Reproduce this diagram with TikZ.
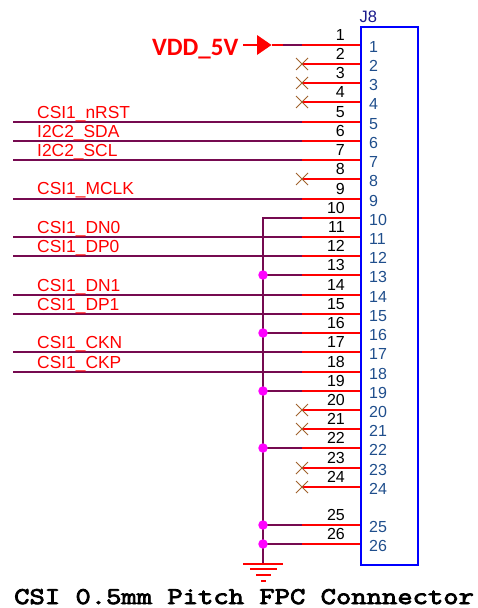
\documentclass[tikz,border=0pt]{standalone}
\usepackage{fontspec}
\setsansfont{Liberation Sans}
\newfontfamily\vddfont{Carlito}
\newfontfamily\titlefont[FakeBold=3.5,FakeStretch=1.24]{Latin Modern Mono}
\usetikzlibrary{calc}
\definecolor{wiredark}{HTML}{760A50}
\definecolor{pinblue}{HTML}{1F4E8C}
\definecolor{refblue}{HTML}{1A1A8C}
\definecolor{xbrown}{HTML}{A0622D}
\definecolor{purepink}{HTML}{FF00FF}
\definecolor{purered}{HTML}{FF0000}
\definecolor{pureblue}{HTML}{0000FF}
\tikzset{
  x=1pt,y=-1pt,
  pinline/.style={draw=purered,line width=1.7pt},
  wireline/.style={draw=wiredark,line width=1.7pt},
  nomark/.style={draw=xbrown,line width=1pt},
  pinnum/.style={text=black,font=\sffamily\fontsize{16}{16}\selectfont,anchor=base east,inner sep=0pt},
  padnum/.style={text=pinblue,font=\sffamily\fontsize{16}{16}\selectfont,anchor=base west,inner sep=0pt},
  netlabel/.style={text=purered,font=\sffamily\fontsize{17.4}{17.4}\selectfont,anchor=base west,inner sep=0pt},
  junction/.style={circle,fill=purepink,draw=none,minimum size=9.5pt,inner sep=0pt},
  gndbar/.style={draw=purered,line width=1.7pt},
}
\begin{document}
\begin{tikzpicture}
\useasboundingbox (0,0) rectangle (477,608);
% connector body
\node[draw=pureblue,line width=1.7pt,minimum width=57pt,minimum height=538pt,inner sep=0pt,anchor=north west] (body) at (360,26) {};
\node[text=refblue,font=\sffamily\fontsize{16.5}{16.5}\selectfont,anchor=base west,inner sep=0pt] (ref) at (359.5,22.5) {J8};
% pins
\foreach \n/\yy in {1/45,2/64,3/83,4/102,5/122,6/141,7/160,8/179,9/199,10/218,11/237,12/256,13/275,14/295,15/314,16/333,17/352,18/372,19/391,20/410,21/429,22/448,23/468,24/487,25/525,26/544}{
  \coordinate (s\n) at (302,\yy);
  \coordinate (e\n) at (360,\yy);
  \coordinate (b\n) at (263,\yy);
  \coordinate (w\n) at (13,\yy);
  \draw[pinline] (s\n) -- (e\n);
  \node[pinnum] (pn\n) at (345,\yy-4.5) {\n};
  \node[padnum] (pd\n) at (369,\yy+7.5) {\n};
}
% no-connect marks
\foreach \n in {2,3,4,8,20,21,23,24}{
  \draw[nomark] ($(s\n)+(-6,-6)$) -- ($(s\n)+(6,6)$) ($(s\n)+(-6,6)$) -- ($(s\n)+(6,-6)$);
}
% signal wires
\foreach \n in {5,6,7,9,11,12,14,15,17,18}{
  \draw[wireline] (w\n) -- (s\n);
}
% net labels
\node[netlabel] (l5) at (37,118.3) {CSI1\_nRST};
\node[netlabel] (l6) at (37,137.5) {I2C2\_SDA};
\node[netlabel] (l7) at (37,156.7) {I2C2\_SCL};
\node[netlabel] (l9) at (37,194.8) {CSI1\_MCLK};
\node[netlabel] (l11) at (37,233.3) {CSI1\_DN0};
\node[netlabel] (l12) at (37,252.3) {CSI1\_DP0};
\node[netlabel] (l14) at (37,291) {CSI1\_DN1};
\node[netlabel] (l15) at (37,310) {CSI1\_DP1};
\node[netlabel] (l17) at (37,348.3) {CSI1\_CKN};
\node[netlabel] (l18) at (37,368) {CSI1\_CKP};
% ground bus
\coordinate (gnd) at (263,564);
\draw[wireline] (s10) -- (b10) -- (gnd);
\foreach \n in {13,16,19,22,25,26}{
  \draw[wireline] (b\n) -- (s\n);
  \node[junction] (j\n) at (b\n) {};
}
\draw[gndbar] (243,564) -- (283,564);
\draw[gndbar] (250,569) -- (277,569);
\draw[gndbar] (256,575) -- (271,575);
\draw[gndbar] (261,581) -- (266,581);
% VDD port
\coordinate (portin) at (243,45);
\coordinate (portbase) at (257,45);
\coordinate (porttip) at (271.5,45);
\coordinate (stubend) at (283,45);
\draw[pinline] (portin) -- (portbase);
\fill[purered] (257,35) -- (porttip) -- (257,55) -- cycle;
\draw[pinline] (porttip) -- (stubend);
\draw[wireline] (stubend) -- (s1);
\node[text=purered,font=\vddfont\bfseries\fontsize{25}{25}\selectfont,anchor=base west,inner sep=0pt] (vdd) at (152,55) {VDD\_5V};
% title
\node[font=\titlefont\fontsize{24}{24}\selectfont,anchor=base west,inner sep=0pt] (title) at (14,604) {CSI 0.5mm Pitch FPC Connnector};
\end{tikzpicture}
\end{document}
